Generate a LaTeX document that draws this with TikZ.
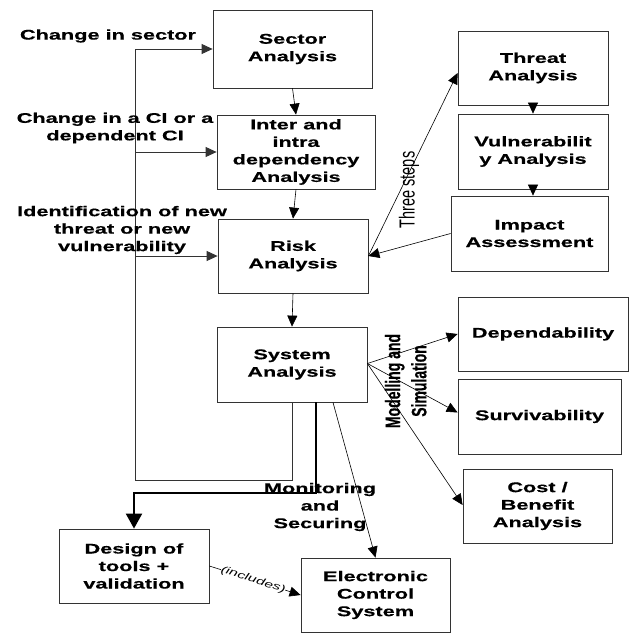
\documentclass[tikz,border=0pt]{standalone}
\usepackage{fontspec}
\setmainfont{Liberation Sans}[FakeStretch=1.55, BoldFeatures={FakeBold=0.4}]
\newfontfamily\plainsans{Liberation Sans}[BoldFeatures={FakeBold=0.4}]
\usetikzlibrary{arrows.meta,calc}
\tikzset{
  box/.style={draw=black!80, line width=0.8pt, align=center, inner sep=0pt,
    font=\fontsize{14}{17.5}\selectfont\bfseries},
  lbl/.style={align=center, inner sep=0pt, font=\fontsize{14}{17.5}\selectfont\bfseries},
  arr/.style={draw=black, line width=0.6pt, -{Triangle[length=11pt,width=10pt]}},
  tharr/.style={draw=black, line width=2.2pt, -{Triangle[length=15pt,width=16pt]}},
  con/.style={draw=black!80, line width=0.8pt},
}
\begin{document}
\begin{tikzpicture}[x=1pt,y=-1pt]
\useasboundingbox (0,0) rectangle (634,635);
\fill[white] (0,0) rectangle (634,635);

% boxes
\node[box, minimum width=159pt, minimum height=78pt] (sector) at (292.5,49) {Sector\\Analysis};
\node[box, minimum width=158pt, minimum height=74pt] (inter) at (296,152) {Inter and\\intra\\dependency\\Analysis};
\node[box, minimum width=150pt, minimum height=74pt] (risk) at (293,256) {Risk\\Analysis};
\node[box, minimum width=150pt, minimum height=74pt] (threat) at (533,68) {Threat\\Analysis};
\node[box, minimum width=150pt, minimum height=75pt] (vuln) at (533,151.5) {Vulnerabilit\\y Analysis};
\node[box, minimum width=157pt, minimum height=75pt] (impact) at (529.5,233.5) {Impact\\Assessment};
\node[box, minimum width=150pt, minimum height=75pt] (system) at (292,364.5) {System\\Analysis};
\node[box, minimum width=170pt, minimum height=74pt] (dep) at (543,334) {Dependability};
\node[box, minimum width=163pt, minimum height=75pt] (surv) at (539.5,416.5) {Survivability};
\node[box, minimum width=149pt, minimum height=74pt] (cost) at (537.5,506) {Cost /\\Benefit\\Analysis};
\node[box, minimum width=150pt, minimum height=74pt] (design) at (134,566) {Design of\\tools +\\validation};
\node[box, minimum width=149pt, minimum height=74pt] (ecs) at (375.5,595) {Electronic\\Control\\System};

% coordinates
\coordinate (fbc) at (135,480);
\coordinate (thc) at (134,493);

% main chain
\draw[arr] (sector.south) -- (inter.north);
\draw[arr] (inter.south) -- (risk.north);
\draw[arr] (risk.south) -- (system.north);

% feedback loop
\draw[con, -{Triangle[length=11pt,width=10pt]}] (system.south) |- (fbc) |- (sector.west);
\draw[con, -{Triangle[length=11pt,width=10pt]}] (fbc |- inter.west) -- (inter.west);
\draw[con, -{Triangle[length=11pt,width=10pt]}] (fbc |- risk.west) -- (risk.west);

% thick monitoring line
\draw[tharr] ([xshift=24pt]system.south) |- (thc) -- (design.north);
\draw[arr] ([xshift=41pt]system.south) -- (ecs.north);

% risk steps
\draw[arr] (risk.east) -- ([yshift=-5pt]threat.west);
\draw[arr] (impact.west) -- (risk.east);
\draw[arr] (threat.south) -- (vuln.north);
\draw[arr] (vuln.south) -- ([xshift=3.5pt]impact.north);

% modelling
\draw[arr] ([yshift=1pt]system.east) -- (dep.west);
\draw[arr] ([yshift=1pt]system.east) -- ([yshift=4pt]surv.west);
\draw[arr] ([yshift=1pt]system.east) -- ([yshift=1pt]cost.west);

% includes
\draw[arr] (design.east) -- node[pos=0.48, sloped, fill=white, inner sep=0pt,
  font=\fontsize{10}{12}\selectfont\itshape] {(includes)} (ecs.west);

% labels
\node[lbl] (l1) at (108,36) {Change in sector};
\node[lbl] (l2) at (115,128) {Change in a CI or a\\dependent CI};
\node[lbl] (l3) at (122,230) {Identification of new\\threat or new\\vulnerability};
\node[lbl] (l4) at (320,507) {Monitoring\\and\\Securing};

\node[rotate=90, inner sep=0pt] (l5) at (409,190)
  {\scalebox{1}[1.5]{\plainsans\fontsize{14.5}{17.5}\selectfont Three steps}};
\node[rotate=90, inner sep=0pt] (l6) at (408,381)
  {\scalebox{1}[1.5]{\plainsans\bfseries\fontsize{14}{17.5}\selectfont
   \begin{tabular}{@{}c@{}}Modelling and\\Simulation\end{tabular}}};
\end{tikzpicture}
\end{document}
